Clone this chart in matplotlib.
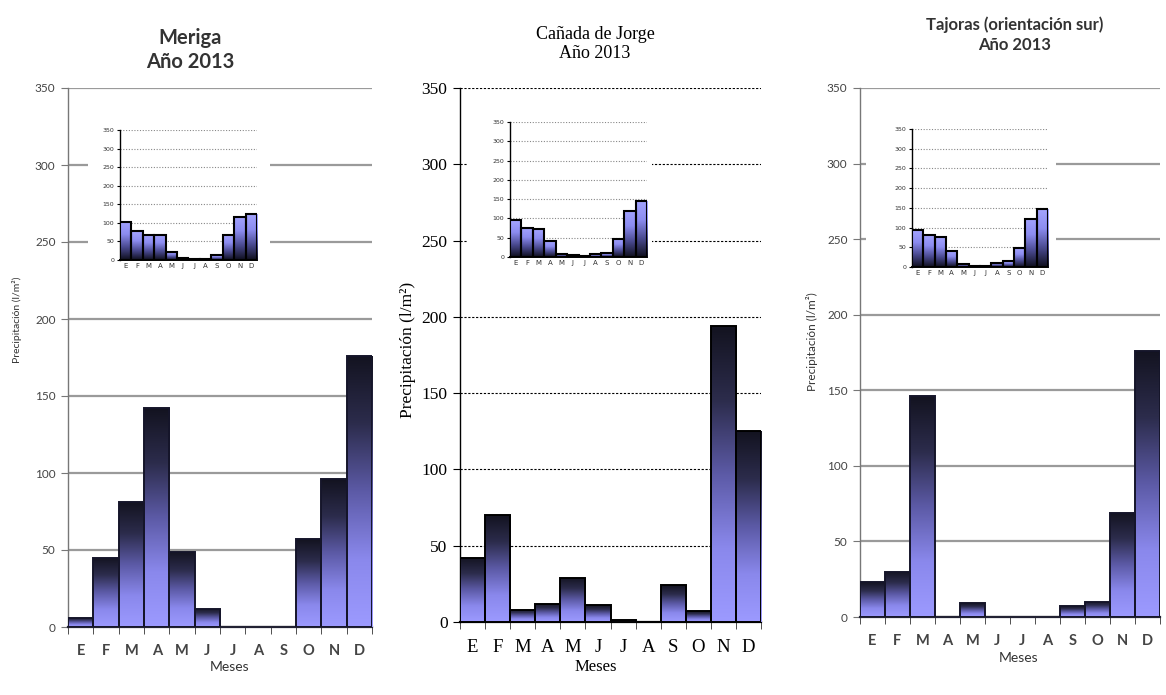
import numpy as np
import matplotlib
matplotlib.use('Agg')
import matplotlib.pyplot as plt
from matplotlib.colors import LinearSegmentedColormap
from matplotlib.patches import Rectangle

meses = ['E', 'F', 'M', 'A', 'M', 'J', 'J', 'A', 'S', 'O', 'N', 'D']

# main charts, precipitation 2013 (l/m2)
meriga = [6, 45, 81, 142, 49, 12, 0, 0, 0, 57, 96, 176]
canada = [42, 70, 8, 12, 29, 11, 1, 0, 24, 7, 194, 125]
tajoras = [23, 30, 146, 0, 9, 0, 0, 0, 7, 10, 69, 176]

# small inset charts
meriga_inset = [103, 77, 68, 68, 22, 6, 4, 4, 13, 68, 116, 123]
canada_inset = [95, 76, 72, 41, 9, 4, 2, 7, 10, 47, 120, 145]
tajoras_inset = [93, 80, 76, 40, 8, 3, 3, 11, 14, 48, 123, 146]

titles = ['Meriga\nAño 2013', 'Cañada de Jorge\nAño 2013',
          'Tajoras (orientación sur)\nAño 2013']
ylab = 'Precipitación (l/m²)'

W, H = 1166, 695
fig = plt.figure(figsize=(W / 100, H / 100), dpi=100)
fig.patch.set_facecolor('white')


def box(l, t, r, b):
    return [l / W, 1 - b / H, (r - l) / W, (b - t) / H]


cmap_main = LinearSegmentedColormap.from_list(
    'main', ['#9c9aff', '#8a88ec', '#5c5aa6', '#2c2c4c', '#131320'])
cmap_inset = LinearSegmentedColormap.from_list(
    'inset', ['#0e0e1c', '#4a4a90', '#8c8cf0', '#a4a4ff'])
grad = np.linspace(0, 1, 256).reshape(-1, 1)


def gradient_bars(ax, vals, cmap, edge, lw):
    x = np.arange(len(vals))
    bars = ax.bar(x, vals, width=1.0, facecolor='none', edgecolor=edge,
                  linewidth=lw, zorder=4)
    for b in bars:
        h = b.get_height()
        if h <= 0:
            b.set_visible(False)
            continue
        x0, w = b.get_x(), b.get_width()
        im = ax.imshow(grad, cmap=cmap, aspect='auto', origin='lower',
                       extent=(x0, x0 + w, 0, h), zorder=3)
        im.set_clip_path(b)
    ax.set_xlim(-0.5, len(vals) - 0.5)
    ax.set_ylim(0, 350)
    ax.set_aspect('auto')


def main_chart(rect, vals, style):
    ax = fig.add_axes(box(*rect))
    if style == 'serif':
        fam = 'Liberation Serif'
        gc, gls, glw = 'black', (0, (2, 1.5)), 0.8
        tcol = 'black'
        ytfs, xtfs = 12.5, 13.5
        edge = 'black'
    else:
        fam = 'Lato'
        gc, gls, glw = '#9a9a9a', '-', 1.6
        tcol = '#444444'
        ytfs, xtfs = 8.5, 10.5
        edge = '#15152a'
    gradient_bars(ax, vals, cmap_main, edge, 1.4)
    ax.set_yticks(range(0, 351, 50))
    ax.set_yticklabels([str(v) for v in range(0, 351, 50)],
                       fontsize=ytfs, family=fam, color=tcol)
    ax.yaxis.grid(True, color=gc, linestyle=gls, linewidth=glw, zorder=1)
    ax.set_axisbelow(True)
    ax.set_xticks(np.arange(12))
    ax.set_xticklabels(meses, fontsize=xtfs, family=fam, color=tcol,
                       weight='bold' if style != 'serif' else 'normal')
    ax.set_xticks(np.arange(-0.5, 12.5, 1), minor=True)
    ax.tick_params(axis='x', which='major', length=0, pad=12)
    ax.tick_params(axis='x', which='minor', length=5, color='#333333')
    ax.tick_params(axis='y', length=5, pad=4,
                   color='black' if style == 'serif' else '#777777')
    for s in ['top', 'right']:
        ax.spines[s].set_visible(False)
    ax.spines['left'].set_color('black' if style == 'serif' else '#777777')
    ax.spines['left'].set_linewidth(1.0)
    ax.spines['bottom'].set_color('black' if style == 'serif' else '#222233')
    ax.spines['bottom'].set_linewidth(1.6)
    return ax


def inset_chart(rect, cover, vals):
    l, t, r, b = cover
    fig.add_artist(Rectangle((l / W, 1 - b / H), (r - l) / W, (b - t) / H,
                             transform=fig.transFigure, facecolor='white',
                             edgecolor='none', zorder=1))
    ax = fig.add_axes(box(*rect))
    ax.set_zorder(2)
    ax.patch.set_alpha(0)
    gradient_bars(ax, vals, cmap_inset, 'black', 1.5)
    ax.set_yticks(range(0, 351, 50))
    ax.set_yticklabels([str(v) for v in range(0, 351, 50)], fontsize=4.5,
                       color='#333333')
    ax.set_xticks(np.arange(12))
    ax.set_xticklabels(meses, fontsize=5, color='#333333')
    ax.tick_params(axis='x', length=0, pad=2)
    ax.tick_params(axis='y', length=2, pad=2)
    ax.yaxis.grid(True, color='#888888', linestyle=(0, (1, 1.5)),
                  linewidth=0.8)
    ax.set_axisbelow(True)
    for s in ['top', 'right']:
        ax.spines[s].set_visible(False)
    ax.spines['left'].set_linewidth(1.0)
    ax.spines['bottom'].set_linewidth(1.4)


# Meriga
ax1 = main_chart((68, 88, 372, 627), meriga, 'sans')
ax1.set_xlabel('Meses', fontsize=10, family='Lato', color='#333333')
ax1.xaxis.set_label_coords(0.53, -0.064)
ax1.set_ylabel(ylab, fontsize=7.5, family='Lato', color='#333333')
ax1.yaxis.set_label_coords(-0.15, 0.57)
inset_chart((120, 130, 257, 260), (88, 115, 270, 280), meriga_inset)

# Canada de Jorge
ax2 = main_chart((460, 88, 761, 622), canada, 'serif')
ax2.set_xlabel('Meses', fontsize=12, family='Liberation Serif')
ax2.xaxis.set_label_coords(0.45, -0.07)
ax2.set_ylabel(ylab, fontsize=12.5, family='Liberation Serif')
ax2.yaxis.set_label_coords(-0.145, 0.51)
inset_chart((510, 122, 647, 257), (468, 108, 652, 274), canada_inset)

# Tajoras
ax3 = main_chart((860, 88, 1160, 617), tajoras, 'sans')
ax3.set_xlabel('Meses', fontsize=10, family='Lato', color='#333333')
ax3.xaxis.set_label_coords(0.527, -0.066)
ax3.set_ylabel(ylab, fontsize=8.5, family='Lato', color='#333333')
ax3.yaxis.set_label_coords(-0.14, 0.52)
inset_chart((912, 129, 1048, 267), (866, 118, 1056, 290), tajoras_inset)

# titles
fig.text(190 / W, 1 - 50 / H, titles[0], ha='center', va='center',
         fontsize=14.5, family='Lato', weight='bold', color='#333333',
         linespacing=1.25)
fig.text(595 / W, 1 - 44 / H, titles[1], ha='center', va='center',
         fontsize=13, family='Liberation Serif', color='black',
         linespacing=1.15)
fig.text(1015 / W, 1 - 35 / H, titles[2], ha='center', va='center',
         fontsize=12, family='Lato', weight='bold', color='#333333',
         linespacing=1.3)

plt.savefig('out.png', dpi=100)
